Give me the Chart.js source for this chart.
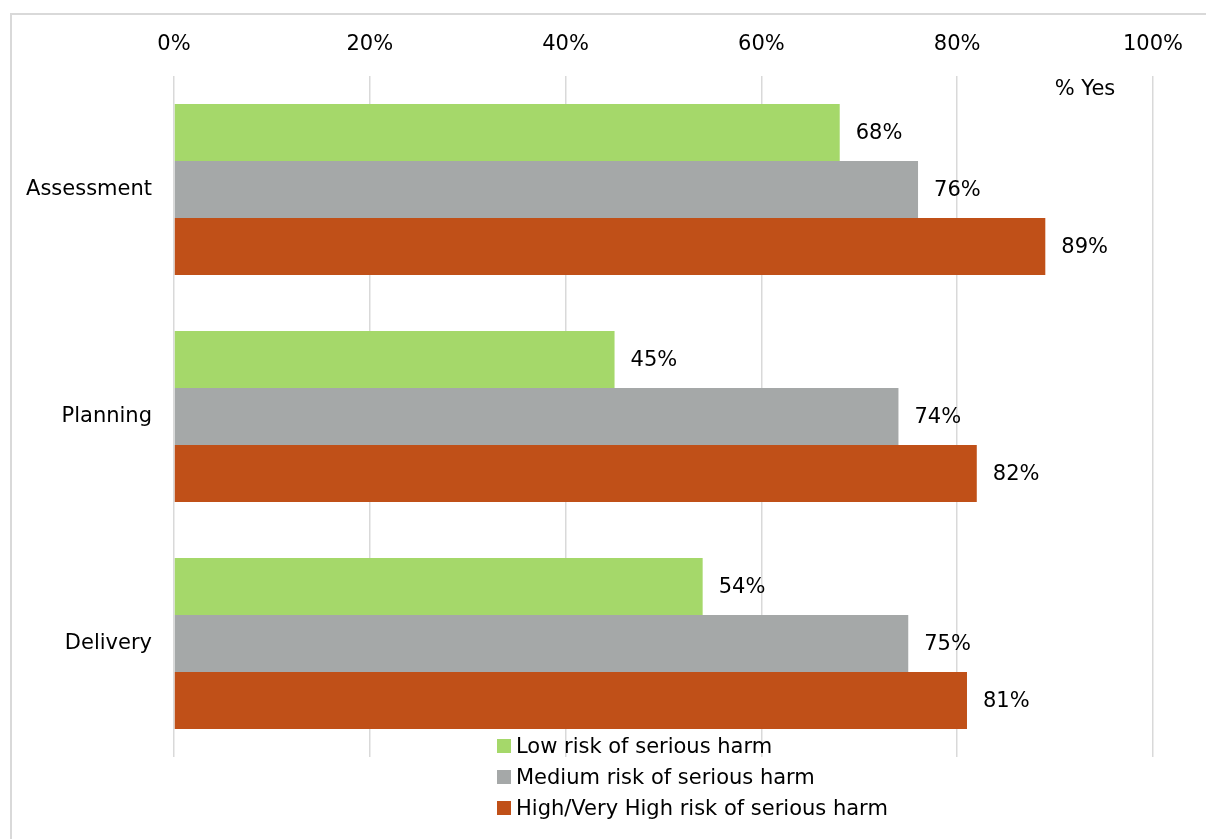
<!DOCTYPE html>
<html>
<head>
<meta charset="utf-8">
<title>% Yes by risk of serious harm</title>
<script src="https://cdn.jsdelivr.net/npm/chart.js@4"></script>
<style>
  html, body { margin: 0; padding: 0; background: #fff; }
  body { width: 1206px; height: 839px; position: relative; overflow: hidden; font-family: "DejaVu Sans", sans-serif; }
  #frame { position: absolute; left: 10px; top: 13px; width: 1300px; height: 900px;
           border-left: 2px solid #d9d9d9; border-top: 2px solid #d9d9d9; }
  #wrap { position: absolute; left: 0; top: 0; width: 1206px; height: 839px; }
  #legend { position: absolute; left: 497px; top: 735px; font-size: 21px; color: #000; }
  #legend div { height: 31px; line-height: 22px; white-space: nowrap; }
  #legend span { display: inline-block; width: 14px; height: 14px; margin-right: 5px; vertical-align: 0px; }
</style>
</head>
<body>
<div id="frame"></div>
<div id="wrap"><canvas id="chart" width="1206" height="839"></canvas></div>
<div id="legend"></div>
<script>
const categories = ["Assessment", "Planning", "Delivery"];
const seriesNames = ["Low risk of serious harm", "Medium risk of serious harm", "High/Very High risk of serious harm"];
const lowRisk = [68, 45, 54];
const mediumRisk = [76, 74, 75];
const highRisk = [89, 82, 81];
const seriesColors = ["#a5d86a", "#a5a8a8", "#c05018"];
const xTicks = [0, 20, 40, 60, 80, 100];

const font = { family: "DejaVu Sans", size: 21 };

// value labels at the end of each bar, plus the "% Yes" note
const barLabels = {
  id: "barLabels",
  afterDatasetsDraw(chart) {
    const ctx = chart.ctx;
    ctx.save();
    ctx.font = "21px 'DejaVu Sans'";
    ctx.fillStyle = "#000";
    ctx.textAlign = "left";
    ctx.textBaseline = "middle";
    chart.data.datasets.forEach((ds, i) => {
      chart.getDatasetMeta(i).data.forEach((bar, j) => {
        ctx.fillText(ds.data[j] + "%", bar.x + 16, bar.y + 1);
      });
    });
    ctx.textAlign = "center";
    ctx.fillText("% Yes", 1085, 90);
    ctx.restore();
  }
};

new Chart(document.getElementById("chart"), {
  type: "bar",
  data: {
    labels: categories,
    datasets: [lowRisk, mediumRisk, highRisk].map((values, i) => ({
      label: seriesNames[i],
      data: values,
      backgroundColor: seriesColors[i],
      borderWidth: 0,
      categoryPercentage: 0.753,
      barPercentage: 1
    }))
  },
  options: {
    indexAxis: "y",
    responsive: false,
    animation: false,
    layout: { padding: { left: 0, right: 53, top: 0, bottom: 82 } },
    plugins: {
      legend: { display: false },
      tooltip: { enabled: false }
    },
    scales: {
      x: {
        position: "top",
        min: 0,
        max: 100,
        afterFit(scale) { scale.height = 76; },
        afterBuildTicks(scale) { scale.ticks = xTicks.map(v => ({ value: v })); },
        ticks: {
          font: font,
          color: "#000",
          padding: 19,
          maxRotation: 0,
          callback: v => v + "%"
        },
        grid: { color: "#d9d9d9", lineWidth: 1.5, drawTicks: false },
        border: { display: false }
      },
      y: {
        afterFit(scale) { scale.width = 174; },
        ticks: { font: font, color: "#000", padding: 22 },
        grid: { display: false, drawTicks: false },
        border: { display: false }
      }
    }
  },
  plugins: [barLabels]
});

// legend, one series per row
document.getElementById("legend").innerHTML = seriesNames
  .map((name, i) => `<div><span style="background:${seriesColors[i]}"></span>${name}</div>`)
  .join("");
</script>
</body>
</html>
